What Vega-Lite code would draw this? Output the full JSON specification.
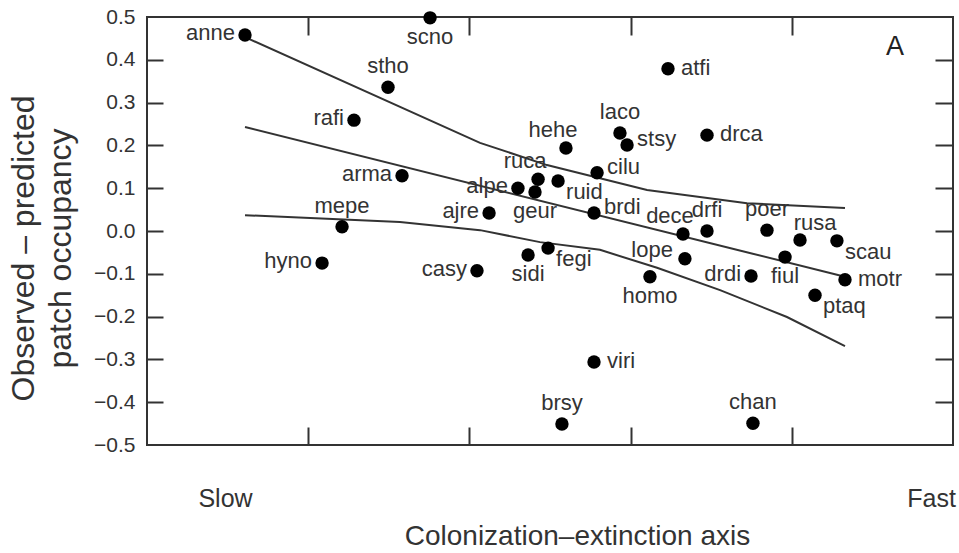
{
  "$schema": "https://vega.github.io/schema/vega-lite/v6.json",
  "width": 806,
  "height": 428,
  "autosize": "none",
  "padding": {"left": 147, "top": 17, "right": 6, "bottom": 108},
  "background": "white",
  "config": {
    "view": {"stroke": "#333333", "strokeWidth": 2},
    "font": "Liberation Sans",
    "axis": {
      "grid": false,
      "domain": false,
      "tickColor": "#333333",
      "tickWidth": 2,
      "labelColor": "#333333",
      "titleColor": "#333333",
      "labelFont": "Liberation Sans",
      "titleFont": "Liberation Sans",
      "titleFontWeight": "normal"
    }
  },
  "datasets": {
    "species": [
      {"name": "anne", "x": 0.608, "y": 0.458, "pos": "l"},
      {"name": "scno", "x": 1.756, "y": 0.498, "pos": "b"},
      {"name": "stho", "x": 1.495, "y": 0.336, "pos": "t"},
      {"name": "rafi", "x": 1.284, "y": 0.259, "pos": "l"},
      {"name": "arma", "x": 1.582, "y": 0.129, "pos": "l"},
      {"name": "mepe", "x": 1.21, "y": 0.01, "pos": "t"},
      {"name": "hyno", "x": 1.086, "y": -0.075, "pos": "l"},
      {"name": "casy", "x": 2.047, "y": -0.093, "pos": "l"},
      {"name": "atfi", "x": 3.232, "y": 0.379, "pos": "r"},
      {"name": "laco", "x": 2.934, "y": 0.229, "pos": "t"},
      {"name": "stsy", "x": 2.978, "y": 0.201, "pos": "ra"},
      {"name": "drca", "x": 3.474, "y": 0.224, "pos": "r"},
      {"name": "hehe", "x": 2.599, "y": 0.194, "pos": "tl"},
      {"name": "cilu", "x": 2.792, "y": 0.136, "pos": "ra"},
      {"name": "alpe", "x": 2.301, "y": 0.1, "pos": "l"},
      {"name": "ruca", "x": 2.426, "y": 0.121, "pos": "tl"},
      {"name": "geur", "x": 2.407, "y": 0.091, "pos": "b"},
      {"name": "ruid", "x": 2.55, "y": 0.117, "pos": "rb"},
      {"name": "ajre", "x": 2.122, "y": 0.042, "pos": "l"},
      {"name": "brdi", "x": 2.773, "y": 0.042, "pos": "ra"},
      {"name": "sidi", "x": 2.364, "y": -0.056, "pos": "b"},
      {"name": "fegi", "x": 2.488, "y": -0.04, "pos": "rb"},
      {"name": "homo", "x": 3.12, "y": -0.107, "pos": "b"},
      {"name": "dece", "x": 3.325, "y": -0.007, "pos": "tl"},
      {"name": "drfi", "x": 3.474, "y": 0.0, "pos": "t"},
      {"name": "lope", "x": 3.337, "y": -0.065, "pos": "lt"},
      {"name": "drdi", "x": 3.747, "y": -0.105, "pos": "l"},
      {"name": "poer", "x": 3.846, "y": 0.002, "pos": "t"},
      {"name": "rusa", "x": 4.051, "y": -0.021, "pos": "tr"},
      {"name": "fiul", "x": 3.958, "y": -0.061, "pos": "b"},
      {"name": "scau", "x": 4.28, "y": -0.023, "pos": "rb"},
      {"name": "motr", "x": 4.33, "y": -0.114, "pos": "r"},
      {"name": "ptaq", "x": 4.144, "y": -0.15, "pos": "rb"},
      {"name": "viri", "x": 2.773, "y": -0.306, "pos": "r"},
      {"name": "brsy", "x": 2.574, "y": -0.451, "pos": "t"},
      {"name": "chan", "x": 3.759, "y": -0.449, "pos": "t"}
    ],
    "curves": [
      {"band": "upper", "x": 0.608, "y": 0.453},
      {"band": "upper", "x": 2.066, "y": 0.206},
      {"band": "upper", "x": 2.481, "y": 0.154},
      {"band": "upper", "x": 3.102, "y": 0.096},
      {"band": "upper", "x": 3.722, "y": 0.065},
      {"band": "upper", "x": 4.33, "y": 0.054},
      {"band": "fit", "x": 0.608, "y": 0.243},
      {"band": "fit", "x": 4.33, "y": -0.107},
      {"band": "lower", "x": 0.608, "y": 0.037},
      {"band": "lower", "x": 1.569, "y": 0.021},
      {"band": "lower", "x": 2.066, "y": 0.002},
      {"band": "lower", "x": 2.438, "y": -0.026},
      {"band": "lower", "x": 2.81, "y": -0.044},
      {"band": "lower", "x": 3.164, "y": -0.086},
      {"band": "lower", "x": 3.555, "y": -0.138},
      {"band": "lower", "x": 3.97, "y": -0.201},
      {"band": "lower", "x": 4.33, "y": -0.269}
    ],
    "panel": [{"label": "A", "x": 4.64, "y": 0.43}]
  },
  "resolve": {"axis": {"x": "independent", "y": "independent"}},
  "layer": [
    {
      "mark": {"type": "rule", "color": "#555555", "strokeWidth": 1.5},
      "encoding": {"y": {"datum": 0, "type": "quantitative", "scale": {"domain": [-0.5, 0.5], "nice": false}, "axis": null}}
    },
    {
      "data": {"name": "curves"},
      "mark": {"type": "line", "color": "#333333", "strokeWidth": 2},
      "encoding": {
        "x": {"field": "x", "type": "quantitative", "scale": {"domain": [0, 5], "nice": false, "zero": false},
              "axis": {"orient": "top", "values": [1, 2, 3, 4], "labels": false, "tickSize": 18, "offset": -18, "title": null}},
        "y": {"field": "y", "type": "quantitative", "scale": {"domain": [-0.5, 0.5], "nice": false},
              "axis": {"orient": "right", "values": [-0.4, -0.3, -0.2, -0.1, 0, 0.1, 0.2, 0.3, 0.4], "labels": false, "tickSize": 18, "offset": -18, "title": null}},
        "detail": {"field": "band"}
      }
    },
    {
      "data": {"name": "species"},
      "mark": {"type": "circle", "color": "#000000", "opacity": 1, "size": 180},
      "encoding": {
        "x": {"field": "x", "type": "quantitative",
              "axis": {"orient": "bottom", "values": [0.484, 1, 2, 3, 4, 4.864],
                       "labelExpr": "datum.value < 0.9 ? 'Slow' : datum.value > 4.5 ? 'Fast' : ''",
                       "tickOpacity": {"condition": {"test": "datum.value < 0.9 || datum.value > 4.5", "value": 0}, "value": 1},
                       "tickSize": 18, "offset": -18, "labelFontSize": 25, "labelPadding": 41, "labelFlush": false, "labelOverlap": false,
                       "title": "Colonization–extinction axis", "titleFontSize": 28, "titleX": 430, "titleY": 117, "titleBaseline": "alphabetic", "titleAnchor": "middle"}},
        "y": {"field": "y", "type": "quantitative",
              "axis": {"orient": "left", "values": [-0.5, -0.4, -0.3, -0.2, -0.1, 0, 0.1, 0.2, 0.3, 0.4, 0.5], "format": ".1f",
                       "tickSize": 16, "offset": -16, "labelFontSize": 21, "labelPadding": 12, "labelOverlap": false, "labelFlush": false,
                       "tickOpacity": {"condition": {"test": "abs(datum.value) > 0.45", "value": 0}, "value": 1},
                       "title": ["Observed – predicted", "patch occupancy"], "titleFontSize": 32, "titleLineHeight": 37,
                       "titleX": -155, "titleY": 231, "titleBaseline": "top", "titleAlign": "center", "titleAngle": -90}}
      }
    },
    {
      "data": {"name": "species"},
      "transform": [{"filter": "datum.pos == 'l'"}],
      "mark": {"type": "text", "align": "right", "baseline": "middle", "dx": -10, "dy": -2, "fontSize": 22, "color": "#333333"},
      "encoding": {"x": {"field": "x", "type": "quantitative", "axis": null}, "y": {"field": "y", "type": "quantitative", "axis": null}, "text": {"field": "name"}}
    },
    {
      "data": {"name": "species"},
      "transform": [{"filter": "datum.pos == 'lt'"}],
      "mark": {"type": "text", "align": "right", "baseline": "middle", "dx": -12, "dy": -9, "fontSize": 22, "color": "#333333"},
      "encoding": {"x": {"field": "x", "type": "quantitative", "axis": null}, "y": {"field": "y", "type": "quantitative", "axis": null}, "text": {"field": "name"}}
    },
    {
      "data": {"name": "species"},
      "transform": [{"filter": "datum.pos == 'r'"}],
      "mark": {"type": "text", "align": "left", "baseline": "middle", "dx": 13, "dy": -1, "fontSize": 22, "color": "#333333"},
      "encoding": {"x": {"field": "x", "type": "quantitative", "axis": null}, "y": {"field": "y", "type": "quantitative", "axis": null}, "text": {"field": "name"}}
    },
    {
      "data": {"name": "species"},
      "transform": [{"filter": "datum.pos == 'ra'"}],
      "mark": {"type": "text", "align": "left", "baseline": "middle", "dx": 10, "dy": -6, "fontSize": 22, "color": "#333333"},
      "encoding": {"x": {"field": "x", "type": "quantitative", "axis": null}, "y": {"field": "y", "type": "quantitative", "axis": null}, "text": {"field": "name"}}
    },
    {
      "data": {"name": "species"},
      "transform": [{"filter": "datum.pos == 'rb'"}],
      "mark": {"type": "text", "align": "left", "baseline": "middle", "dx": 8, "dy": 11, "fontSize": 22, "color": "#333333"},
      "encoding": {"x": {"field": "x", "type": "quantitative", "axis": null}, "y": {"field": "y", "type": "quantitative", "axis": null}, "text": {"field": "name"}}
    },
    {
      "data": {"name": "species"},
      "transform": [{"filter": "datum.pos == 't'"}],
      "mark": {"type": "text", "align": "center", "baseline": "middle", "dy": -21, "fontSize": 22, "color": "#333333"},
      "encoding": {"x": {"field": "x", "type": "quantitative", "axis": null}, "y": {"field": "y", "type": "quantitative", "axis": null}, "text": {"field": "name"}}
    },
    {
      "data": {"name": "species"},
      "transform": [{"filter": "datum.pos == 'tl'"}],
      "mark": {"type": "text", "align": "center", "baseline": "middle", "dx": -13, "dy": -18, "fontSize": 22, "color": "#333333"},
      "encoding": {"x": {"field": "x", "type": "quantitative", "axis": null}, "y": {"field": "y", "type": "quantitative", "axis": null}, "text": {"field": "name"}}
    },
    {
      "data": {"name": "species"},
      "transform": [{"filter": "datum.pos == 'tr'"}],
      "mark": {"type": "text", "align": "center", "baseline": "middle", "dx": 15, "dy": -17, "fontSize": 22, "color": "#333333"},
      "encoding": {"x": {"field": "x", "type": "quantitative", "axis": null}, "y": {"field": "y", "type": "quantitative", "axis": null}, "text": {"field": "name"}}
    },
    {
      "data": {"name": "species"},
      "transform": [{"filter": "datum.pos == 'b'"}],
      "mark": {"type": "text", "align": "center", "baseline": "middle", "dy": 19, "fontSize": 22, "color": "#333333"},
      "encoding": {"x": {"field": "x", "type": "quantitative", "axis": null}, "y": {"field": "y", "type": "quantitative", "axis": null}, "text": {"field": "name"}}
    },
    {
      "data": {"name": "panel"},
      "mark": {"type": "text", "align": "center", "baseline": "middle", "fontSize": 27, "color": "#222222"},
      "encoding": {"x": {"field": "x", "type": "quantitative", "axis": null}, "y": {"field": "y", "type": "quantitative", "axis": null}, "text": {"field": "label"}}
    }
  ]
}
